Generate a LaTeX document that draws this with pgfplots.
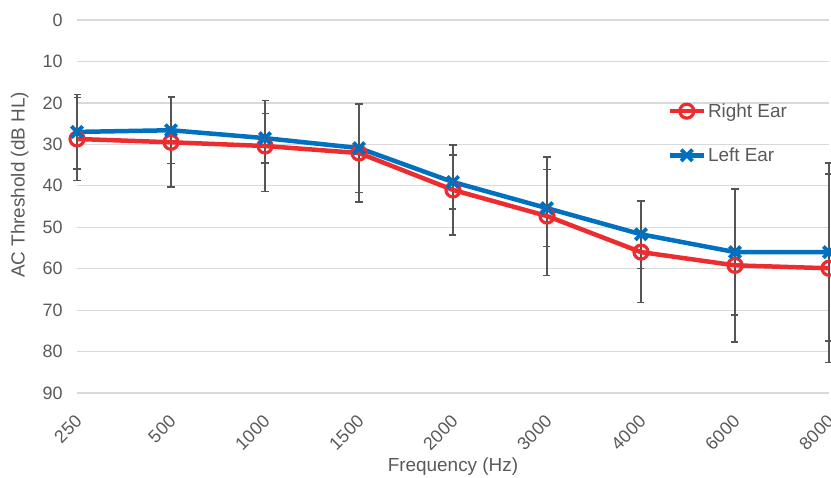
\documentclass[border=0pt]{standalone}
\usepackage{fontspec}
\setmainfont{Liberation Sans}
\usepackage{pgfplots}
\usepackage{pgfplotstable}
\pgfplotsset{compat=1.18}

\definecolor{redear}{RGB}{236,44,46}
\definecolor{blueear}{RGB}{0,112,192}
\definecolor{gridgray}{RGB}{217,217,217}
\definecolor{txtgray}{RGB}{89,89,89}
\definecolor{errgray}{RGB}{85,85,85}

% x index, mean threshold, error
\pgfplotstableread{
x y ey
0 28.7 10.0
1 29.5 10.8
2 30.4 11.0
3 32.1 11.8
4 41.0 10.9
5 47.3 14.3
6 56.0 12.2
7 59.2 18.5
8 59.9 22.7
}\rightear

\pgfplotstableread{
x y ey
0 27.0 9.0
1 26.6 8.0
2 28.5 6.0
3 30.9 10.7
4 39.1 6.5
5 45.4 9.3
6 51.7 8.2
7 56.0 15.2
8 56.0 21.5
}\leftear

\begin{document}
\begin{tikzpicture}
\begin{axis}[
    at={(77bp,85bp)}, anchor=south west,
    scale only axis, width=752bp, height=373bp,
    xmin=0, xmax=8, ymin=0, ymax=90, y dir=reverse,
    xtick={0,...,8},
    xticklabels={250,500,1000,1500,2000,3000,4000,6000,8000},
    ytick={0,10,...,90},
    /pgf/number format/assume math mode=true,
    ymajorgrids, grid style={gridgray, line width=1.2bp},
    axis line style={draw=none}, major tick length=0pt,
    tick label style={font=\fontsize{18}{20}\selectfont, text=txtgray},
    xticklabel style={xshift=4bp, yshift=-23bp, rotate=45, anchor=east},
    yticklabel style={xshift=-11bp},
    xlabel={Frequency (Hz)},
    ylabel={AC Threshold (dB HL)},
    label style={font=\fontsize{19}{22}\selectfont, text=txtgray},
    xlabel style={at={(axis description cs:0.5,-0.198)}, anchor=center},
    ylabel style={at={(axis description cs:-0.076,0.558)}, anchor=center},
    clip=false,
    legend style={at={(axis description cs:0.785,0.782)}, anchor=north west,
        draw=none, fill=none, font=\fontsize{19}{22}\selectfont,
        text=txtgray, row sep=25bp, inner sep=0pt,
        nodes={inner sep=2bp}},
    legend cell align=left,
    legend image code/.code={
        \draw[mark repeat=2, mark phase=2] plot coordinates {(0bp,0bp) (17bp,0bp) (34bp,0bp)};},
]
% error bars first, beneath the lines
\addplot[draw=none, mark=none, forget plot,
    error bars/.cd, y dir=both, y explicit,
    error bar style={draw=errgray, line width=1.5bp},
    error mark options={draw=errgray, rotate=90, mark size=3.5bp, line width=1.5bp}]
    table[x=x, y=y, y error=ey] {\rightear};
\addplot[draw=none, mark=none, forget plot,
    error bars/.cd, y dir=both, y explicit,
    error bar style={draw=errgray, line width=1.5bp},
    error mark options={draw=errgray, rotate=90, mark size=3.5bp, line width=1.5bp}]
    table[x=x, y=y, y error=ey] {\leftear};

\addplot[redear, line width=4.5bp, mark=o,
    mark options={line width=3.2bp, mark size=7bp}]
    table[x=x, y=y] {\rightear};
\addplot[blueear, line width=4.5bp, mark=x,
    mark options={line width=3.8bp, mark size=8bp}]
    table[x=x, y=y] {\leftear};
\legend{Right Ear, Left Ear}
\end{axis}
\pgfresetboundingbox
\path (0bp,0bp) rectangle (831bp,478bp);
\end{tikzpicture}
\end{document}
